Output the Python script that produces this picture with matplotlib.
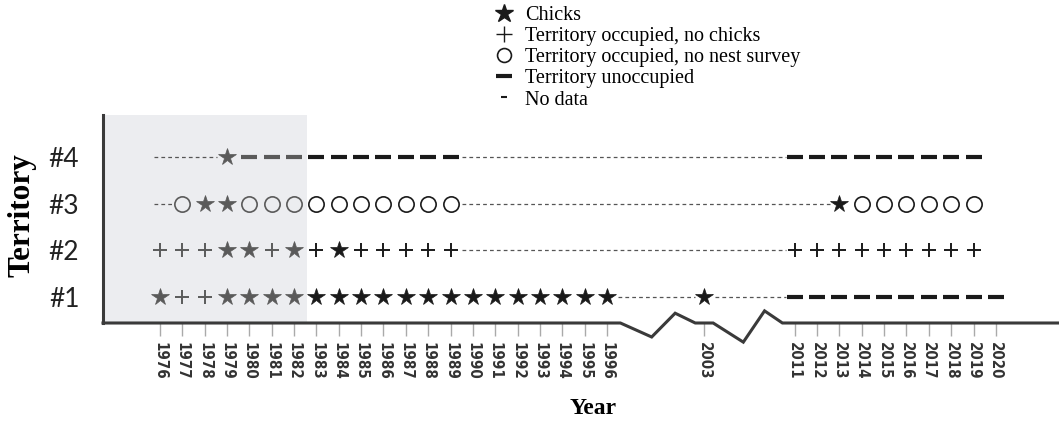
import matplotlib
matplotlib.use("Agg")
import matplotlib.pyplot as plt
from matplotlib.lines import Line2D

# years shown on the (broken) time axis
years = list(range(1976, 1997)) + [2003] + list(range(2011, 2021))

# status per shown year: C chicks, P occupied no chicks,
# O occupied no nest survey, U unoccupied, N no data
territory_1 = "CPPCCCCCCCCCCCCCCCCCC" + "C" + "UUUUUUUUUU"
territory_2 = "PPPCCPCPCPPPPPNNNNNNN" + "N" + "PPPPPPPPPN"
territory_3 = "NOCCOOOOOOOOOONNNNNNN" + "N" + "NNCOOOOOON"
territory_4 = "NNNCUUUUUUUUUUNNNNNNN" + "N" + "UUUUUUUUUN"
territories = [territory_1, territory_2, territory_3, territory_4]
territory_labels = ["#1", "#2", "#3", "#4"]

shaded_until = 1982  # early period, drawn grey

legend_labels = ["Chicks", "Territory occupied, no chicks",
                 "Territory occupied, no nest survey",
                 "Territory unoccupied", "No data"]

SERIF = ["Liberation Serif", "DejaVu Serif"]


def year_pos(y):
    # compress the axis: 1997-2002 and 2004-2010 are cut out
    if y <= 1996:
        return y - 1976
    if y == 2003:
        return 24.35
    return 28.4 + (y - 2011)


def marker_style(code, color):
    if code == "C":
        return dict(marker="*", ms=13, mfc=color, mec=color, mew=0.5)
    if code == "P":
        return dict(marker="+", ms=10, mec=color, mew=1.4)
    if code == "O":
        return dict(marker="o", ms=11, mfc="none", mec=color, mew=1.2)
    if code == "U":
        return dict(marker="_", ms=11, mec=color, mew=3)
    return None


def plot_chart():
    fig = plt.figure(figsize=(10.59, 4.22), dpi=100)
    ax = fig.add_axes([103 / 1059, 99 / 422, 955 / 1059, 208 / 422])
    xmin, xmax = -2.55, 40.18
    base = 0.443
    ax.set_xlim(xmin, xmax)
    ax.set_ylim(base, 4.9)

    # grey background for early years
    ax.axvspan(xmin, year_pos(shaded_until) + 0.58, color="#ecedf0", lw=0, zorder=0)

    for row, codes in enumerate(territories, start=1):
        pts = [(year_pos(y), c, y) for y, c in zip(years, codes)]
        known = [i for i, p in enumerate(pts) if p[1] != "N"]
        # no-data dashed lines
        if known and known[0] > 0:
            ax.plot([pts[0][0] - 0.25, pts[known[0]][0] - 0.45], [row, row],
                    color="#555555", lw=0.9, ls=(0, (3, 2.5)), zorder=1)
        for a, b in zip(known[:-1], known[1:]):
            if b > a + 1 or pts[b][2] - pts[a][2] > 1:
                ax.plot([pts[a][0] + 0.5, pts[b][0] - 0.4], [row, row],
                        color="#555555", lw=0.9, ls=(0, (3, 2.5)), zorder=1)
        for x, c, y in pts:
            color = "#5a5a5a" if y <= shaded_until else "#1a1a1a"
            st = marker_style(c, color)
            if st:
                ax.plot([x], [row], ls="none", zorder=3, **st)

    # axes: left spine + broken bottom axis
    for s in ["top", "right", "bottom"]:
        ax.spines[s].set_visible(False)
    ax.spines["left"].set_linewidth(2.2)
    ax.spines["left"].set_color("#3a3a3a")
    p96, p03, p11 = year_pos(1996), year_pos(2003), year_pos(2011)
    bx = [xmin, p96 + 0.6, p96 + 2.0, p03 - 1.3, p03 - 0.4, p03 + 0.4,
          p11 - 2.3, p11 - 1.35, p11 - 0.55, xmax]
    by = [base, base, base - 0.30, base + 0.21, base, base,
          base - 0.41, base + 0.26, base, base]
    ax.plot(bx, by, color="#3a3a3a", lw=2.2, clip_on=False, zorder=4,
            solid_joinstyle="miter")

    ax.set_xticks([year_pos(y) for y in years])
    ax.set_xticklabels([str(y) for y in years], rotation=270, fontsize=10.8,
                       fontweight="bold", family="DejaVu Sans", fontstretch="condensed",
                       color="#333333")
    ax.tick_params(axis="x", length=9, width=1, color="#aaaaaa", pad=5)
    ax.set_yticks([1, 2, 3, 4])
    ax.set_yticklabels(territory_labels, fontsize=19, family=["Lato", "DejaVu Sans"],
                       color="#222222")
    ax.tick_params(axis="y", length=0, pad=17)

    fig.text(22 / 1059, 1 - 215 / 422, "Territory", rotation=90, ha="center",
             va="center", fontsize=22.5, fontweight="bold", family=SERIF)
    fig.text(593 / 1059, 1 - 408 / 422, "Year", ha="center", va="center",
             fontsize=17, fontweight="bold", family=SERIF)

    handles = [
        Line2D([], [], ls="none", marker="*", ms=13.5, color="#1a1a1a"),
        Line2D([], [], ls="none", marker="+", ms=12, mew=1.0, color="#1a1a1a"),
        Line2D([], [], ls="none", marker="o", ms=10, mew=1.2, mfc="none", color="#1a1a1a"),
        Line2D([], [], ls="none", marker="_", ms=11, mew=3, color="#1a1a1a"),
        Line2D([], [], ls="none", marker="_", ms=4, mew=1.5, color="#1a1a1a"),
    ]
    fig.legend(handles, legend_labels, loc="upper left",
               bbox_to_anchor=(494.0 / 1059, 1 - 6 / 422), frameon=False,
               prop={"family": SERIF, "size": 14.5}, handlelength=1.0,
               handletextpad=0.55, labelspacing=0.1, borderpad=0, borderaxespad=0)

    fig.savefig("out.png", dpi=100)


if __name__ == '__main__':
    plot_chart()
